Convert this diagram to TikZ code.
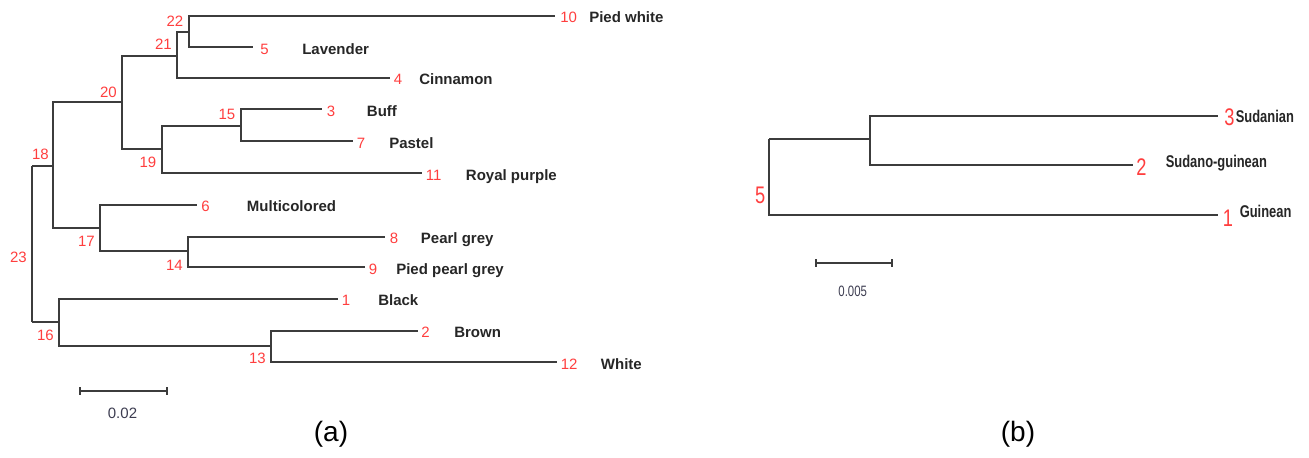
\documentclass[tikz,border=0pt]{standalone}
\usepackage{fontspec}
\setmainfont{Liberation Sans}
\newfontfamily\narrowfont[FakeStretch=0.76]{Liberation Sans}
\definecolor{numred}{RGB}{255,62,62}
\definecolor{linegray}{RGB}{60,60,60}
\definecolor{scalegray}{RGB}{60,60,80}
\begin{document}
\begin{tikzpicture}[x=0.75pt,y=-0.75pt,
  br/.style={draw=linegray,line width=1.4pt},
  lnum/.style={text=numred,font=\fontsize{11.25}{13}\selectfont,inner sep=0pt,anchor=base west},
  inum/.style={text=numred,font=\fontsize{11.25}{13}\selectfont,inner sep=0pt,anchor=base east},
  lname/.style={text=black!85,font=\fontsize{11.25}{13}\selectfont\bfseries,inner sep=0pt,anchor=base west},
  bnum/.style={text=numred,font=\narrowfont\fontsize{18}{20}\selectfont,inner sep=0pt},
  bname/.style={text=black!85,font=\narrowfont\fontsize{12.75}{14}\selectfont\bfseries,inner sep=0pt,anchor=base west},
  scaletext/.style={text=scalegray,inner sep=0pt,anchor=base},
  panel/.style={font=\fontsize{21}{24}\selectfont,inner sep=0pt}]
\useasboundingbox (0,0) rectangle (1309,457);

% ---------- panel (a) ----------
% internal nodes
\coordinate (n23) at (32.3,165.7);
\coordinate (n18) at (53.3,165.7);
\coordinate (n20) at (122.3,101.7);
\coordinate (n21) at (177,55.7);
\coordinate (n22) at (188.7,31.7);
\coordinate (n19) at (162,149.3);
\coordinate (n15) at (240.7,125.7);
\coordinate (n17) at (100,228.3);
\coordinate (n14) at (188.3,251);
\coordinate (n16) at (59.3,322.3);
\coordinate (n13) at (271,345.7);
% leaves
\coordinate (l10) at (555,15.7);
\coordinate (l5) at (253,47.3);
\coordinate (l4) at (390,77.7);
\coordinate (l3) at (321.7,109.3);
\coordinate (l7) at (353.3,141.3);
\coordinate (l11) at (421.7,173);
\coordinate (l6) at (196.7,204.7);
\coordinate (l8) at (385,236.7);
\coordinate (l9) at (365,267);
\coordinate (l1) at (338.3,298.7);
\coordinate (l2) at (418.3,330.7);
\coordinate (l12) at (556.7,362.3);

% branches
\draw[br] (n23) -- (n23 |- n16);
\draw[br] (n23) -- (n18);
\draw[br] (n23 |- n16) -- (n16);
\draw[br] (n18) |- (n20);
\draw[br] (n18) |- (n17);
\draw[br] (n20) |- (n21);
\draw[br] (n20) |- (n19);
\draw[br] (n21) |- (n22);
\draw[br] (n21) |- (l4);
\draw[br] (n22) |- (l10);
\draw[br] (n22) |- (l5);
\draw[br] (n19) |- (n15);
\draw[br] (n19) |- (l11);
\draw[br] (n15) |- (l3);
\draw[br] (n15) |- (l7);
\draw[br] (n17) |- (l6);
\draw[br] (n17) |- (n14);
\draw[br] (n14) |- (l8);
\draw[br] (n14) |- (l9);
\draw[br] (n16) |- (l1);
\draw[br] (n16) |- (n13);
\draw[br] (n13) |- (l2);
\draw[br] (n13) |- (l12);

% internal node labels
\node[inum] (t22) at (183.5,26.4) {22};
\node[inum] (t21) at (172,49.7) {21};
\node[inum] (t20) at (117,97) {20};
\node[inum] (t15) at (235.5,119.7) {15};
\node[inum] (t19) at (156.5,167) {19};
\node[inum] (t18) at (49,159.4) {18};
\node[inum] (t17) at (95,246) {17};
\node[inum] (t14) at (183,270.4) {14};
\node[inum] (t23) at (27,262.7) {23};
\node[inum] (t16) at (54,340.4) {16};
\node[inum] (t13) at (266,363.7) {13};

% leaf numbers
\node[lnum] (t10) at (560,22.7) {10};
\node[lnum] (t5) at (260,54.3) {5};
\node[lnum] (t4) at (393.5,84.7) {4};
\node[lnum] (t3) at (326.5,116.3) {3};
\node[lnum] (t7) at (356.5,148.3) {7};
\node[lnum] (t11) at (425.5,180) {11};
\node[lnum] (t6) at (201,211.7) {6};
\node[lnum] (t8) at (389.5,243.7) {8};
\node[lnum] (t9) at (368.5,274) {9};
\node[lnum] (t1) at (341.5,305.7) {1};
\node[lnum] (t2) at (421,337.7) {2};
\node[lnum] (t12) at (560.5,369.3) {12};

% leaf names
\node[lname] (m10) at (589,22.7) {Pied white};
\node[lname] (m5) at (302,54.3) {Lavender};
\node[lname] (m4) at (419,84.7) {Cinnamon};
\node[lname] (m3) at (366.7,116.3) {Buff};
\node[lname] (m7) at (389,148.3) {Pastel};
\node[lname] (m11) at (465.7,180) {Royal purple};
\node[lname] (m6) at (246.7,211.7) {Multicolored};
\node[lname] (m8) at (420.7,243.7) {Pearl grey};
\node[lname] (m9) at (396,274) {Pied pearl grey};
\node[lname] (m1) at (378,305.7) {Black};
\node[lname] (m2) at (454,337.7) {Brown};
\node[lname] (m12) at (600.7,369.3) {White};

% scale bar (a)
\coordinate (sa1) at (80,391);
\coordinate (sa2) at (166.7,391);
\draw[br] (sa1) -- (sa2);
\draw[br] (80,387) -- (80,395);
\draw[br] (166.7,387) -- (166.7,395);
\node[scaletext,font=\fontsize{11.25}{13}\selectfont] (sta) at (122.5,418.7) {0.02};

\node[panel] (pa) at (331,434) {(a)};

% ---------- panel (b) ----------
\coordinate (r5) at (769.3,139.3);
\coordinate (r4) at (870,139.3);
\coordinate (b3) at (1218.3,116);
\coordinate (b2) at (1132.7,165);
\coordinate (b1) at (1218.3,215);

\draw[br] (r5) -- (r4);
\draw[br] (r5) |- (b1);
\draw[br] (r4) |- (b3);
\draw[br] (r4) |- (b2);

\node[bnum,anchor=base east] (u5) at (765.5,203.6) {5};
\node[bnum,anchor=base west] (u3) at (1224,125.9) {3};
\node[bnum,anchor=base west] (u2) at (1136,175.9) {2};
\node[bnum,anchor=base west] (u1) at (1222.5,226.9) {1};

\node[bname] (v3) at (1235.5,122.8) {Sudanian};
\node[bname] (v2) at (1165.5,167.8) {Sudano-guinean};
\node[bname] (v1) at (1239.5,217.8) {Guinean};

% scale bar (b)
\coordinate (sb1) at (815.7,263.3);
\coordinate (sb2) at (891.7,263.3);
\draw[br] (sb1) -- (sb2);
\draw[br] (815.7,259.3) -- (815.7,267.3);
\draw[br] (891.7,259.3) -- (891.7,267.3);
\node[scaletext,font=\narrowfont\fontsize{11.25}{13}\selectfont] (stb) at (852.7,296.5) {0.005};

\node[panel] (pb) at (1018,434) {(b)};
\end{tikzpicture}
\end{document}
